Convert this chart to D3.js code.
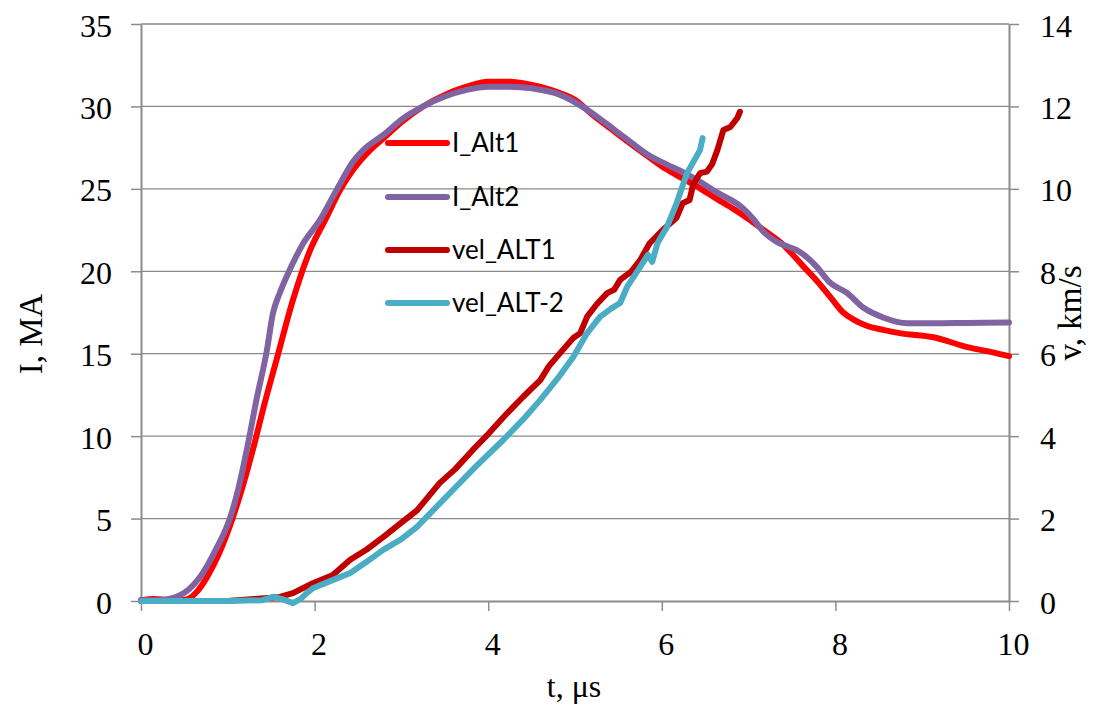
<!DOCTYPE html>
<html>
<head>
<meta charset="utf-8">
<script src="https://cdn.jsdelivr.net/npm/d3@7"></script>
<style>
  html, body { margin: 0; padding: 0; background: #fff; }
  svg { display: block; }
</style>
</head>
<body>
<svg id="chart" width="1093" height="706"></svg>
<script>
// ---------------- DATA ----------------
const xTicks = [0, 2, 4, 6, 8, 10];
const iTicks = [0, 5, 10, 15, 20, 25, 30, 35];
const vTicks = [0, 2, 4, 6, 8, 10, 12, 14];

const seriesNames = ["I_Alt1", "I_Alt2", "vel_ALT1", "vel_ALT-2"];
const seriesColors = ["#FF0000", "#8064A2", "#C00000", "#4BACC6"];

const tAlt1 = [0, 0.15, 0.3, 0.45, 0.53, 0.65, 0.76, 0.9, 1.06, 1.18, 1.29, 1.42, 1.56, 1.75, 1.95, 2.14, 2.29, 2.45, 2.64, 2.8, 3.0, 3.25, 3.5, 3.75, 4.0, 4.25, 4.5, 4.83, 5.0, 5.2, 5.4, 5.6, 5.86, 6.05, 6.25, 6.45, 6.63, 6.82, 7.02, 7.2, 7.4, 7.63, 7.79, 7.94, 8.09, 8.2, 8.36, 8.55, 8.74, 9.13, 9.52, 9.8, 10];
const iAlt1 = [0.05, 0.12, 0.08, 0.05, 0.1, 0.6, 1.45, 2.9, 5.1, 7.1, 9.2, 11.9, 14.6, 18.25, 21.3, 23.3, 24.9, 26.2, 27.35, 28.1, 29.05, 30.0, 30.7, 31.2, 31.5, 31.5, 31.3, 30.8, 30.4, 29.5, 28.7, 27.9, 26.9, 26.2, 25.6, 25.0, 24.4, 23.8, 23.1, 22.4, 21.6, 20.3, 19.4, 18.45, 17.5, 17.1, 16.7, 16.45, 16.25, 16.0, 15.4, 15.1, 14.85];

const tAlt2 = [0, 0.2, 0.3, 0.41, 0.55, 0.68, 0.85, 1.03, 1.13, 1.22, 1.33, 1.45, 1.52, 1.6, 1.68, 1.87, 2.06, 2.25, 2.45, 2.56, 2.8, 3.0, 3.25, 3.5, 3.75, 4.0, 4.25, 4.5, 4.83, 5.14, 5.35, 5.6, 5.86, 6.05, 6.25, 6.45, 6.63, 6.94, 7.05, 7.17, 7.32, 7.45, 7.55, 7.66, 7.78, 7.94, 8.13, 8.32, 8.55, 8.83, 9.12, 9.5, 10];
const iAlt2 = [0.05, 0.05, 0.1, 0.25, 0.7, 1.45, 3.0, 5.1, 7.0, 9.2, 12.2, 15.2, 17.45, 18.7, 19.7, 21.7, 23.1, 24.9, 26.7, 27.35, 28.3, 29.2, 30.0, 30.6, 31.0, 31.2, 31.2, 31.1, 30.7, 29.8, 29.0, 28.0, 27.0, 26.5, 26.0, 25.4, 24.8, 23.8, 23.2, 22.4, 21.8, 21.5, 21.3, 20.9, 20.3, 19.3, 18.7, 17.8, 17.2, 16.85, 16.85, 16.87, 16.9];

const tVel1 = [0, 1.0, 1.3, 1.5, 1.6, 1.75, 1.98, 2.21, 2.41, 2.6, 2.79, 3.0, 3.18, 3.44, 3.62, 3.82, 4.0, 4.22, 4.4, 4.6, 4.7, 4.83, 4.98, 5.06, 5.14, 5.25, 5.37, 5.45, 5.52, 5.65, 5.75, 5.86, 6.01, 6.17, 6.24, 6.32, 6.36, 6.44, 6.52, 6.58, 6.64, 6.71, 6.79, 6.87, 6.9];
const vVel1 = [0, 0, 0.05, 0.08, 0.1, 0.19, 0.43, 0.63, 1.0, 1.25, 1.55, 1.9, 2.2, 2.86, 3.2, 3.66, 4.05, 4.56, 4.95, 5.36, 5.7, 6.02, 6.38, 6.5, 6.9, 7.2, 7.47, 7.55, 7.79, 8.0, 8.27, 8.68, 9.0, 9.3, 9.65, 9.73, 10.1, 10.38, 10.42, 10.6, 10.94, 11.43, 11.5, 11.72, 11.87];

const tVel2 = [0, 1.0, 1.4, 1.52, 1.62, 1.75, 1.84, 1.91, 1.98, 2.2, 2.41, 2.6, 2.79, 3.0, 3.18, 3.56, 3.85, 4.17, 4.4, 4.6, 4.8, 4.98, 5.14, 5.29, 5.42, 5.52, 5.6, 5.75, 5.84, 5.89, 5.95, 6.06, 6.17, 6.29, 6.44, 6.47];
const vVel2 = [0, 0, 0.02, 0.1, 0.05, -0.05, 0.05, 0.19, 0.31, 0.5, 0.68, 0.95, 1.24, 1.5, 1.8, 2.62, 3.25, 3.9, 4.4, 4.88, 5.4, 5.92, 6.5, 6.9, 7.1, 7.23, 7.62, 8.1, 8.4, 8.23, 8.68, 9.08, 9.65, 10.38, 10.94, 11.23];

// ---------------- LAYOUT ----------------
const L = 141, R = 1009, T = 24, B = 601;
const svg = d3.select("#chart");
svg.append("rect").attr("width", 1093).attr("height", 706).attr("fill", "#fff");

const x = d3.scaleLinear().domain([0, 10]).range([L, R]);
const yI = d3.scaleLinear().domain([0, 35]).range([B, T]);
const yV = d3.scaleLinear().domain([0, 14]).range([B, T]);

const gridColor = "#898989";
const axisColor = "#8c8c8c";
const serif = "'Liberation Serif', 'Times New Roman', serif";

// gridlines
svg.append("g").selectAll("line")
  .data(iTicks.filter(d => d > 0))
  .join("line")
  .attr("x1", L).attr("x2", R)
  .attr("y1", d => yI(d)).attr("y2", d => yI(d))
  .attr("stroke", gridColor).attr("stroke-width", 1.3);

function styleAxis(g) {
  g.select(".domain").attr("stroke", axisColor).attr("stroke-width", 2);
  g.selectAll(".tick line").attr("stroke", axisColor).attr("stroke-width", 1.5);
  g.selectAll(".tick text")
    .attr("fill", "#000")
    .style("font-family", serif)
    .style("font-size", "32px");
}

// left axis
const gL = svg.append("g").attr("transform", `translate(${L},0)`)
  .call(d3.axisLeft(yI).tickValues(iTicks).tickSize(10).tickSizeOuter(0).tickFormat(d3.format("d")));
styleAxis(gL);
gL.selectAll(".tick text").attr("x", -29).attr("dy", null).attr("y", 12);

// right axis
const gR = svg.append("g").attr("transform", `translate(${R},0)`)
  .call(d3.axisRight(yV).tickValues(vTicks).tickSize(10).tickSizeOuter(0).tickFormat(d3.format("d")));
styleAxis(gR);
gR.selectAll(".tick text").attr("x", 31).attr("dy", null).attr("y", 12);

// bottom axis
const gB = svg.append("g").attr("transform", `translate(0,${B})`)
  .call(d3.axisBottom(x).tickValues(xTicks).tickSize(10).tickSizeOuter(0).tickFormat(d3.format("d")));
styleAxis(gB);
gB.selectAll(".tick text").attr("x", 4).attr("dy", null).attr("y", 54);

// axis titles
svg.append("text")
  .attr("transform", `translate(42,334) rotate(-90)`)
  .attr("text-anchor", "middle")
  .style("font-family", serif).style("font-size", "33px")
  .text("I, MA");

svg.append("text")
  .attr("transform", `translate(1081,313) rotate(-90)`)
  .attr("text-anchor", "middle")
  .style("font-family", serif).style("font-size", "33px")
  .text("v, km/s");

svg.append("text")
  .attr("x", 574).attr("y", 697)
  .attr("text-anchor", "middle")
  .style("font-family", serif).style("font-size", "32px")
  .text("t, μs");

// ---------------- LINES ----------------
const lineI = d3.line().x(d => x(d[0])).y(d => yI(d[1])).curve(d3.curveMonotoneX);
const lineV = d3.line().x(d => x(d[0])).y(d => yV(d[1])).curve(d3.curveLinear);

const series = [
  { pts: d3.zip(tAlt1, iAlt1), gen: lineI },
  { pts: d3.zip(tAlt2, iAlt2), gen: lineI },
  { pts: d3.zip(tVel1, vVel1), gen: lineV },
  { pts: d3.zip(tVel2, vVel2), gen: lineV }
];

const plot = svg.append("g");
series.forEach((s, i) => {
  plot.append("path")
    .attr("d", s.gen(s.pts))
    .attr("fill", "none")
    .attr("stroke", seriesColors[i])
    .attr("stroke-width", 6)
    .attr("stroke-linejoin", "round")
    .attr("stroke-linecap", "round");
});

// ---------------- LEGEND ----------------
const legendY = [143, 197, 250, 303];
const leg = svg.append("g");
seriesNames.forEach((name, i) => {
  leg.append("line")
    .attr("x1", 388).attr("x2", 447)
    .attr("y1", legendY[i]).attr("y2", legendY[i])
    .attr("stroke", seriesColors[i]).attr("stroke-width", 6)
    .attr("stroke-linecap", "round");
  leg.append("text")
    .attr("x", 452).attr("y", legendY[i] + 9)
    .style("font-family", "Lato, 'Open Sans', sans-serif")
    .style("font-size", "26px")
    .attr("fill", "#000")
    .text(name);
});
</script>
</body>
</html>
